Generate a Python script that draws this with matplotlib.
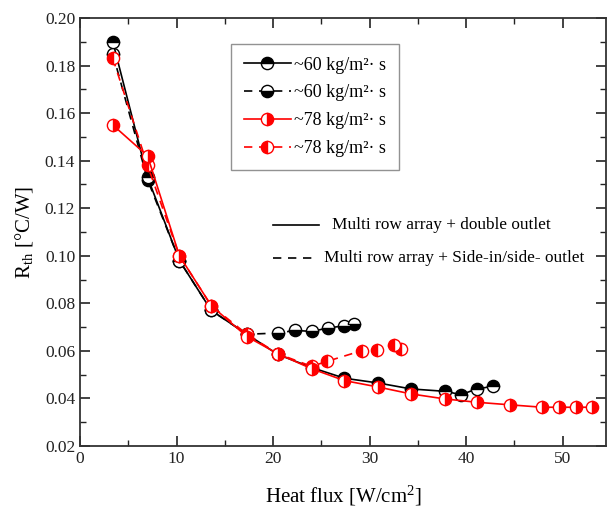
import matplotlib
matplotlib.use("Agg")
import matplotlib.pyplot as plt
from matplotlib.lines import Line2D
from matplotlib.ticker import MultipleLocator

plt.rcParams['font.family'] = ['Liberation Serif', 'DejaVu Serif']
plt.rcParams['mathtext.fontset'] = 'custom'
plt.rcParams['mathtext.rm'] = 'Liberation Serif'
plt.rcParams['mathtext.it'] = 'Liberation Serif:italic'

# ~60 kg/m2 s, multi row array + double outlet (black solid)
x_b_double = [3.4, 7.0, 10.3, 13.6, 17.3, 20.5, 24.0, 27.4, 30.9, 34.3, 37.8, 39.5, 41.1, 42.8]
y_b_double = [0.190, 0.133, 0.098, 0.077, 0.067, 0.0585, 0.053, 0.0485, 0.0465, 0.044, 0.043, 0.0416, 0.044, 0.0451]

# ~60 kg/m2 s, side-in/side-outlet (black dashed)
x_b_side = [3.4, 7.0, 10.3, 13.6, 17.3, 20.5, 22.3, 24.0, 25.7, 27.4, 28.4]
y_b_side = [0.185, 0.132, 0.098, 0.077, 0.067, 0.0675, 0.0686, 0.0682, 0.0696, 0.0706, 0.0714]

# ~78 kg/m2 s, double outlet (red solid)
x_r_double = [3.4, 7.0, 10.3, 13.6, 17.3, 20.5, 24.0, 27.4, 30.9, 34.3, 37.8, 41.1, 44.6, 47.9, 49.6, 51.4, 53.1]
y_r_double = [0.155, 0.142, 0.100, 0.079, 0.066, 0.0588, 0.0525, 0.0475, 0.0448, 0.0419, 0.0398, 0.0384,
              0.0373, 0.0363, 0.0363, 0.0363, 0.0363]

# ~78 kg/m2 s, side-in/side-outlet (red dashed)
x_r_side = [3.4, 7.0, 10.3, 13.6, 17.3, 20.5, 24.0, 25.6, 29.2, 30.8, 32.5, 33.3]
y_r_side = [0.183, 0.138, 0.100, 0.079, 0.067, 0.0588, 0.0535, 0.0556, 0.0601, 0.0605, 0.0626, 0.0609]

labels = ["~60 kg/m\u00b2\u00b7 s", "~60 kg/m\u00b2\u00b7 s", "~78 kg/m\u00b2\u00b7 s", "~78 kg/m\u00b2\u00b7 s"]

fig = plt.figure(figsize=(6.08, 5.12), dpi=100)
ax = fig.add_axes([80/608, 1-446/512, 526/608, 428/512])

RED = '#ff0000'
ms = 8.8
common = dict(markersize=ms, markeredgewidth=1.0, markerfacecoloralt='white', lw=1.2)

ax.plot(x_b_side, y_b_side, ls=(0, (5, 4)), color='black', marker='o', fillstyle='bottom',
        markerfacecolor='black', markeredgecolor='black', label=labels[1], **common)
ax.plot(x_b_double, y_b_double, ls='-', color='black', marker='o', fillstyle='top',
        markerfacecolor='black', markeredgecolor='black', label=labels[0], **common)
ax.plot(x_r_side, y_r_side, ls=(0, (5, 4)), color=RED, marker='o', fillstyle='left',
        markerfacecolor=RED, markeredgecolor=RED, label=labels[3], **common)
ax.plot(x_r_double, y_r_double, ls='-', color=RED, marker='o', fillstyle='right',
        markerfacecolor=RED, markeredgecolor=RED, label=labels[2], **common)

ax.set_xlim(0, 54.5)
ax.set_ylim(0.02, 0.20)
ax.xaxis.set_major_locator(MultipleLocator(10))
ax.xaxis.set_minor_locator(MultipleLocator(5))
ax.yaxis.set_major_locator(MultipleLocator(0.02))
ax.yaxis.set_minor_locator(MultipleLocator(0.01))
ax.yaxis.set_major_formatter(matplotlib.ticker.FormatStrFormatter('%.2f'))
ax.tick_params(which='both', direction='in', top=True, right=True, labelsize=12.5, colors='#222222')
ax.tick_params(which='major', length=7, width=1.2)
ax.tick_params(which='minor', length=4, width=1.0)
for s in ax.spines.values():
    s.set_linewidth(1.3)
    s.set_color('#333333')

ax.set_xlabel("Heat flux [W/cm$\\mathregular{^{2}}$]", fontsize=15, labelpad=12)
ax.set_ylabel("R$\\mathregular{_{th}}$ [\u00b0C/W]", fontsize=15, labelpad=7)

handles, labs = ax.get_legend_handles_labels()
order = [1, 0, 3, 2]
leg = ax.legend([handles[i] for i in order], [labs[i] for i in order],
                loc='upper left', bbox_to_anchor=((231-80)/526, (446-44)/428),
                fontsize=13, frameon=True, fancybox=False, edgecolor='#777777',
                handlelength=2.6, handletextpad=0.2, labelspacing=0.6,
                borderpad=0.7, borderaxespad=0)
leg.get_frame().set_linewidth(1.0)

# second (style) legend
def fx(px):
    return (px - 80) / 526
def fy(py):
    return (446 - py) / 428

ax.add_line(Line2D([fx(273), fx(319)], [fy(225), fy(225)], transform=ax.transAxes,
                   color='black', lw=1.2))
ax.text(fx(332), fy(225), "Multi row array + double outlet", transform=ax.transAxes,
        fontsize=12.4, va='center', ha='left')
ax.add_line(Line2D([fx(273), fx(315)], [fy(258), fy(258)], transform=ax.transAxes,
                   color='black', lw=1.2, ls=(0, (5, 4))))
ax.text(fx(324), fy(258), "Multi row array + Side-in/side- outlet", transform=ax.transAxes,
        fontsize=12.4, va='center', ha='left')

fig.savefig("out.png", dpi=100)
